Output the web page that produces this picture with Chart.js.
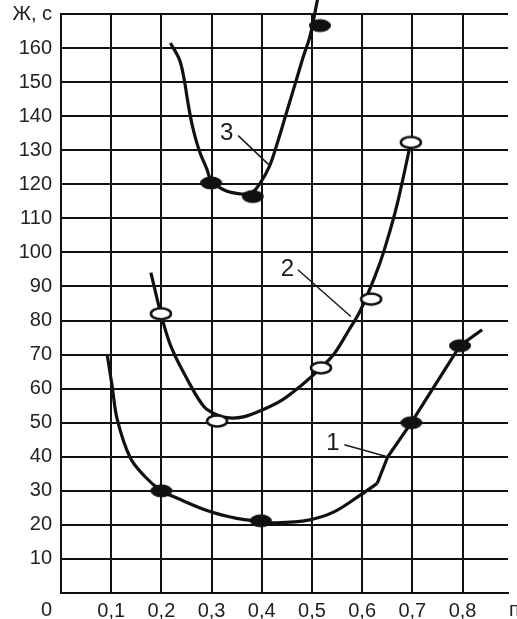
<!DOCTYPE html>
<html>
<head>
<meta charset="utf-8">
<script src="https://cdn.jsdelivr.net/npm/chart.js@4.4.0/dist/chart.umd.min.js"></script>
<style>
  html, body { margin: 0; padding: 0; background: #fff; }
  #wrap { width: 517px; height: 619px; }
</style>
</head>
<body>
<div id="wrap"><canvas id="c" width="517" height="619"></canvas></div>
<script>
// Axis ticks
const xTicks = [0.1, 0.2, 0.3, 0.4, 0.5, 0.6, 0.7, 0.8];
const yTicks = [0, 10, 20, 30, 40, 50, 60, 70, 80, 90, 100, 110, 120, 130, 140, 150, 160, 170];
const yAxisTitle = 'Ж, с';
const xAxisTitle = 'п';

// Curve 1: smooth branch, then the straight upper branch
const curve1SmoothX = [0.092, 0.102, 0.112, 0.138, 0.167, 0.2, 0.232, 0.297, 0.35, 0.398, 0.428, 0.493, 0.545, 0.597, 0.63];
const curve1SmoothY = [70, 60.6, 51, 39.7, 34.2, 30, 27.8, 23.9, 21.9, 21.0, 20.6, 21.4, 23.9, 28.8, 32.2];
const curve1UpperX = [0.63, 0.651, 0.698, 0.795, 0.839];
const curve1UpperY = [32.2, 40, 50, 72.6, 77.3];
const points1X = [0.2, 0.398, 0.698, 0.795];
const points1Y = [30, 21.2, 50, 72.6];

// Curve 2
const curve2X = [0.179, 0.199, 0.219, 0.252, 0.285, 0.311, 0.335, 0.363, 0.402, 0.441, 0.48, 0.518, 0.545, 0.574, 0.597, 0.633, 0.656, 0.672, 0.697];
const curve2Y = [94.1, 82, 72.4, 62.6, 54.7, 52.3, 51.4, 51.7, 53.8, 56.7, 61.1, 66.1, 70.4, 77.3, 83.1, 95.9, 106.6, 115.5, 132.3];
const points2X = [0.199, 0.311, 0.518, 0.618, 0.697];
const points2Y = [82, 50.5, 66.1, 86.3, 132.3];

// Curve 3
const curve3X = [0.218, 0.236, 0.2455, 0.253, 0.262, 0.275, 0.291, 0.299, 0.324, 0.356, 0.38, 0.395, 0.415, 0.431, 0.447, 0.467, 0.483, 0.496, 0.511];
const curve3Y = [161.5, 156.6, 150.7, 143.9, 137, 130.1, 124.3, 121.2, 118.4, 117.2, 117.6, 119.9, 125.2, 132.1, 139.9, 149.7, 157.6, 163.4, 174.2];
const points3X = [0.299, 0.382, 0.516];
const points3Y = [120.4, 116.4, 166.6];

// Curve labels with leader lines: [labelX, labelY, fromX, fromY, toX, toY]
const curveLabels = ['1', '2', '3'];
const labelPos = [
  [0.5416, 44.0, 0.5645, 43.5, 0.650, 40.0],
  [0.451, 94.9, 0.472, 94.9, 0.5775, 81.2],
  [0.33, 134.9, 0.353, 134.3, 0.418, 125.2]
];

const FONT = '"Liberation Sans", Arial, Helvetica, sans-serif';
const INK = '#111';

const zip = (xs, ys) => xs.map((x, i) => ({ x: x, y: ys[i] }));

function ellipseMarker(filled) {
  const c = document.createElement('canvas');
  c.width = 26; c.height = 16;
  const g = c.getContext('2d');
  g.beginPath();
  if (filled) {
    g.ellipse(13, 8, 11, 6.5, 0, 0, Math.PI * 2);
    g.fillStyle = INK;
    g.fill();
  } else {
    g.ellipse(13, 8, 10, 5.5, 0, 0, Math.PI * 2);
    g.fillStyle = '#fff';
    g.fill();
    g.lineWidth = 2.6;
    g.strokeStyle = INK;
    g.stroke();
  }
  return c;
}
const filledMark = ellipseMarker(true);
const openMark = ellipseMarker(false);

function lineSet(data, tension, clip) {
  return {
    data: data,
    showLine: true,
    borderColor: INK,
    borderWidth: 3.2,
    pointRadius: 0,
    fill: false,
    tension: tension,
    clip: clip,
    order: 2
  };
}
function markSet(data, style) {
  return {
    data: data,
    showLine: false,
    pointStyle: style,
    pointRadius: 8,
    order: 0
  };
}

const annotations = {
  id: 'annotations',
  afterDatasetsDraw(chart) {
    const ctx = chart.ctx;
    const xs = chart.scales.x, ys = chart.scales.y;
    ctx.save();
    ctx.fillStyle = '#1a1a1a';
    ctx.strokeStyle = '#1a1a1a';
    ctx.lineWidth = 1.5;
    ctx.font = '24px ' + FONT;
    ctx.textAlign = 'center';
    ctx.textBaseline = 'middle';
    labelPos.forEach((p, i) => {
      ctx.fillText(curveLabels[i], xs.getPixelForValue(p[0]), ys.getPixelForValue(p[1]));
      ctx.beginPath();
      ctx.moveTo(xs.getPixelForValue(p[2]), ys.getPixelForValue(p[3]));
      ctx.lineTo(xs.getPixelForValue(p[4]), ys.getPixelForValue(p[5]));
      ctx.stroke();
    });
    // origin label and x-axis name on the tick-label row
    ctx.font = '20px ' + FONT;
    ctx.fillStyle = '#222';
    const rowY = ys.getPixelForValue(0) + 17;
    ctx.textAlign = 'right';
    ctx.fillText('0', chart.chartArea.left - 9, rowY);
    ctx.textAlign = 'left';
    ctx.fillText(xAxisTitle, 509, rowY);
    ctx.restore();
  }
};

new Chart(document.getElementById('c'), {
  type: 'scatter',
  data: {
    datasets: [
      lineSet(zip(curve1SmoothX, curve1SmoothY), 0.35, 4),
      lineSet(zip(curve1UpperX, curve1UpperY), 0, 4),
      lineSet(zip(curve2X, curve2Y), 0.35, 4),
      lineSet(zip(curve3X, curve3Y), 0.35, false),
      markSet(zip(points1X, points1Y), filledMark),
      markSet(zip(points2X, points2Y), openMark),
      markSet(zip(points3X, points3Y), filledMark)
    ]
  },
  options: {
    responsive: false,
    animation: false,
    devicePixelRatio: 1,
    layout: { padding: { top: 14, right: 0, left: 0, bottom: 0 } },
    plugins: { legend: { display: false }, tooltip: { enabled: false } },
    scales: {
      x: {
        type: 'linear',
        min: 0,
        max: 0.8906,
        afterBuildTicks: s => { s.ticks = xTicks.map(v => ({ value: v })); },
        afterFit: s => { s.height = 26; s.paddingLeft = 0; s.paddingRight = 0; },
        grid: { color: INK, lineWidth: 2, drawTicks: false },
        border: { display: true, color: INK, width: 2 },
        ticks: {
          autoSkip: false, maxRotation: 0, padding: 6,
          color: '#222', font: { family: FONT, size: 20 },
          callback: v => v.toFixed(1).replace('.', ',')
        }
      },
      y: {
        type: 'linear',
        min: 0,
        max: 170,
        afterBuildTicks: s => { s.ticks = yTicks.map(v => ({ value: v })); },
        afterFit: s => { s.width = 61; s.paddingTop = 0; s.paddingBottom = 0; },
        grid: { color: INK, lineWidth: 2, drawTicks: false },
        border: { display: true, color: INK, width: 2 },
        ticks: {
          autoSkip: false, padding: 9,
          color: '#222', font: { family: FONT, size: 20 },
          callback: v => v === 170 ? yAxisTitle : (v === 0 ? '' : String(v))
        }
      }
    }
  },
  plugins: [annotations]
});
</script>
</body>
</html>
